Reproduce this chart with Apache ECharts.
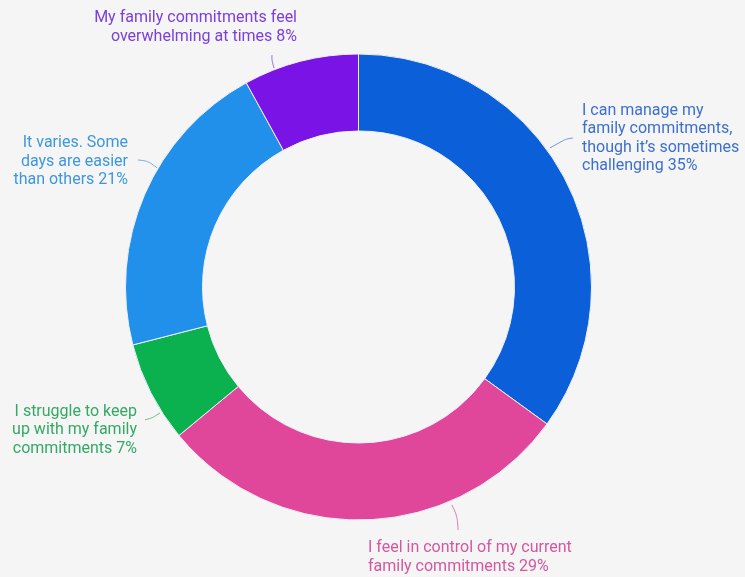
<!DOCTYPE html>
<html>
<head>
<meta charset="utf-8">
<script src="https://cdn.jsdelivr.net/npm/echarts@6/dist/echarts.min.js"></script>
<style>
  html, body { margin: 0; padding: 0; background: #f5f5f5; }
  #chart { width: 745px; height: 577px; }
</style>
</head>
<body>
<div id="chart"></div>
<script>
// Survey answers, clockwise from 12 o'clock
const categories = [
  'I can manage my\nfamily commitments,\nthough it’s sometimes\nchallenging',
  'I feel in control of my current\nfamily commitments',
  'I struggle to keep\nup with my family\ncommitments',
  'It varies. Some\ndays are easier\nthan others',
  'My family commitments feel\noverwhelming at times'
];
const shares = [35, 29, 7, 21, 8]; // percent of respondents

const sliceColors = ['#0b5fd8', '#e0479b', '#0bb04f', '#2190ea', '#7a14e6'];
const labelColors = ['#3d6fcf', '#d4579f', '#34a866', '#3e97dc', '#7a3fdc'];

// Ring geometry
const CX = 358.5, CY = 287, R_IN = 156, R_OUT = 233;

// Where each label block sits: [x, y (block middle), text alignment]
const labelSpots = [
  [582, 138.5, 'left'],
  [368, 557.5, 'left'],
  [137, 430, 'right'],
  [128, 161.7, 'right'],
  [297, 27.5, 'right']
];

// Leader ticks as polar points [angle clockwise from top in degrees, radius]
const leaderPaths = [
  [[54.0, 236.6], [54.5, 254.9], [55.2, 261]],
  [[156.8, 237], [156.7, 249.3], [157.7, 262.6]],
  [[237.6, 235], [237.6, 244.5], [238.1, 251.5]],
  [[300.6, 234], [300.9, 245.3], [299.94, 254.5]],
  [[338.9, 234.7], [339.1, 242.9], [339.55, 247.6]]
];

function polarToXY(p) {
  const a = p[0] * Math.PI / 180;
  return [CX + p[1] * Math.sin(a), CY - p[1] * Math.cos(a)];
}

const chart = echarts.init(document.getElementById('chart'), null, { renderer: 'canvas' });

chart.setOption({
  backgroundColor: '#f5f5f5',
  animation: false,
  series: [{
    type: 'pie',
    center: [CX, CY],
    radius: [R_IN, R_OUT],
    startAngle: 90,
    clockwise: true,
    avoidLabelOverlap: false,
    itemStyle: { borderColor: '#eef0fa', borderWidth: 1 },
    label: {
      show: true,
      position: 'outside',
      fontFamily: 'Roboto',
      fontSize: 16,
      lineHeight: 18.5,
      formatter: p => p.name + ' ' + p.value + '%'
    },
    labelLine: { show: true, smooth: 0.3, lineStyle: { width: 1 } },
    labelLayout: params => {
      const i = params.dataIndex;
      const spot = labelSpots[i];
      return {
        x: spot[0],
        y: spot[1],
        align: spot[2],
        verticalAlign: 'middle',
        labelLinePoints: leaderPaths[i].map(polarToXY)
      };
    },
    emphasis: { disabled: true },
    data: categories.map((name, i) => ({
      name: name,
      value: shares[i],
      itemStyle: { color: sliceColors[i] },
      label: { color: labelColors[i] },
      labelLine: { lineStyle: { color: labelColors[i], opacity: 0.75 } }
    }))
  }]
});
</script>
</body>
</html>
